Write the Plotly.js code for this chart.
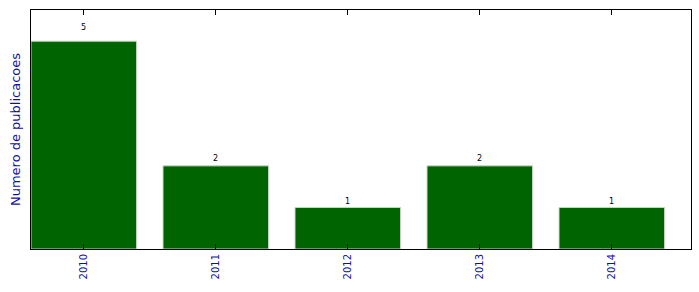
<!DOCTYPE html>
<html><head><meta charset="utf-8">
<script src="https://cdn.plot.ly/plotly-3.0.1.min.js"></script>
<style>body{margin:0;padding:0;background:#fff}#chart{width:699px;height:292px}</style>
</head><body><div id="chart"></div>
<script>
const years = ["2010", "2011", "2012", "2013", "2014"];
const counts = [5, 2, 1, 2, 1];

const idx = years.map((_, i) => i);
const trace = {
  type: "bar",
  x: idx,
  y: counts,
  width: 0.8,
  marker: {color: "#006400", line: {color: "#c8d8c8", width: 1}},
  hoverinfo: "skip"
};
const annotations = counts.map((v, i) => ({
  x: i, y: v * 1.05, xref: "x", yref: "y",
  text: String(v), showarrow: false, yanchor: "bottom", borderpad: 0, yshift: -2,
  font: {family: "DejaVu Sans", size: 8, color: "#000"}
}));
const layout = {
  width: 699, height: 292,
  margin: {l: 31, r: 8, t: 10, b: 43},
  paper_bgcolor: "#fff", plot_bgcolor: "#fff",
  showlegend: false,
  annotations: annotations,
  xaxis: {
    range: [-0.4, 4.6], tickvals: idx, ticktext: years,
    tickangle: -90, ticks: "inside", ticklen: 5, tickcolor: "#000",
    showline: true, linecolor: "#000", linewidth: 1, mirror: "ticks",
    showgrid: false, zeroline: false,
    tickfont: {family: "DejaVu Sans", size: 10, color: "#1010a0"}
  },
  yaxis: {
    range: [0, 5.75], showticklabels: false, ticks: "",
    showline: true, linecolor: "#000", linewidth: 1, mirror: true,
    showgrid: false, zeroline: false,
    title: {text: "Numero de publicacoes", standoff: 6,
      font: {family: "DejaVu Sans", size: 13, color: "#1010a0"}}
  }
};
Plotly.newPlot("chart", [trace], layout, {displayModeBar: false, staticPlot: true});
</script></body></html>
